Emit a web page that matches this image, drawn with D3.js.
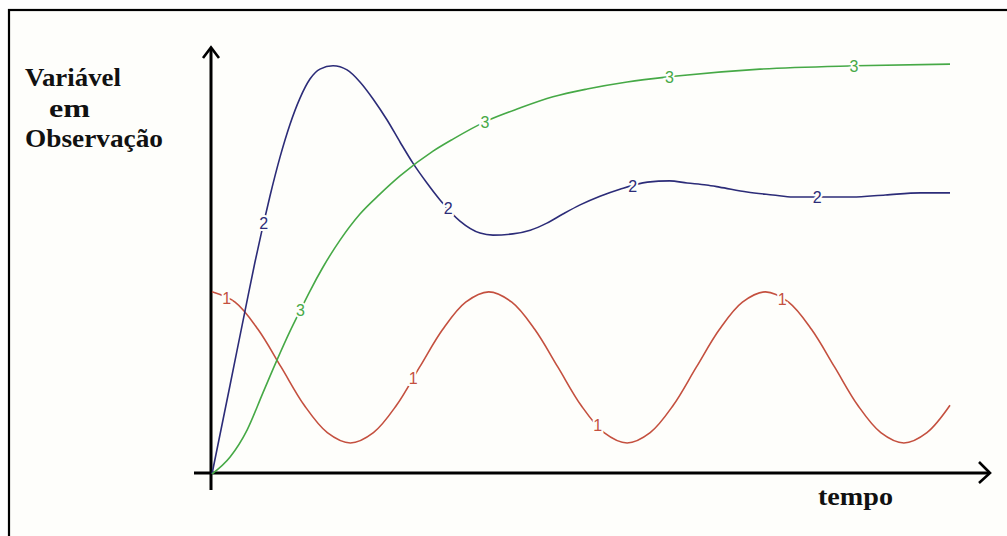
<!DOCTYPE html>
<html>
<head>
<meta charset="utf-8">
<script src="https://cdn.jsdelivr.net/npm/d3@7"></script>
<style>
  html, body { margin: 0; padding: 0; background: #ffffff; }
  svg { display: block; }
</style>
</head>
<body>
<svg id="chart" width="1007" height="536"></svg>
<script>
// Time values (arbitrary units) and observed variable for each response
const serie1 = [
  [0, 44], [1.25, 41.5], [2.5, 34.9], [3.75, 25.8], [5, 16.6], [6.25, 10], [7.5, 7.5],
  [8.75, 10], [10, 16.6], [11.25, 25.8], [12.5, 34.9], [13.75, 41.5], [15, 44],
  [16.25, 41.5], [17.5, 34.9], [18.75, 25.8], [20, 16.6], [21.25, 10], [22.5, 7.5],
  [23.75, 10], [25, 16.6], [26.25, 25.8], [27.5, 34.9], [28.75, 41.5], [30, 44],
  [31.25, 41.5], [32.5, 34.9], [33.75, 25.8], [35, 16.6], [36.25, 10], [37.5, 7.5],
  [38.75, 10], [40, 16.6]
];
const serie2 = [
  [0, 0], [0.98, 21.5], [1.79, 39.4], [2.33, 51.2], [2.71, 58.9], [3.14, 67.1],
  [3.69, 76.6], [4.23, 84.5], [4.77, 90.8], [5.31, 95.4], [5.85, 97.8], [6.56, 98.6],
  [7.32, 97.6], [8.02, 94.7], [8.73, 90.6], [9.49, 85.5], [10.19, 80.2], [10.89, 75.1],
  [11.65, 70.3], [12.36, 66.2], [13.44, 61.1], [14.53, 58.2], [15.23, 57.7], [16.3, 58],
  [17.25, 58.9], [18.15, 60.6], [19.02, 62.8], [19.95, 65], [21.03, 67.1], [22.11, 68.8],
  [23.6, 70.5], [24.8, 70.8], [25.75, 70.3], [26.8, 69.8], [27.5, 69.3], [29.0, 68.1],
  [30.4, 67.4], [31.5, 66.9], [32.8, 66.9], [34.7, 66.9], [36.5, 67.4], [38.4, 67.9],
  [40, 67.9]
];
const serie3 = [
  [0, 0], [0.98, 4.1], [1.9, 10.6], [2.76, 19.6], [3.52, 27.5], [4.23, 34.5],
  [4.77, 39.4], [5.31, 44.2], [6.02, 50], [6.94, 56.5], [8.02, 62.8], [9.1, 67.6],
  [10.19, 72], [11.98, 78], [13.06, 80.9], [14.9, 85.3], [16.69, 88.4], [18.48, 91.1],
  [20.33, 93], [22.5, 94.7], [24.9, 96], [29.7, 97.8], [34.85, 98.6], [40, 99]
];
// Where along time each curve carries its number
const labelTimes1 = [0.8, 10.9, 20.9, 30.9];
const labelTimes2 = [2.8, 12.8, 22.8, 32.8];
const labelTimes3 = [4.8, 14.8, 24.8, 34.8];
const seriesNames = ["1", "2", "3"];
const yTitle = ["Variável", "em", "Observação"];
const xTitle = "tempo";

const series = [
  { name: seriesNames[0], data: serie1, labels: labelTimes1, color: "#c4503f", curve: d3.curveCatmullRom.alpha(0.5) },
  { name: seriesNames[1], data: serie2, labels: labelTimes2, color: "#2c2c78", curve: d3.curveMonotoneX },
  { name: seriesNames[2], data: serie3, labels: labelTimes3, color: "#46a946", curve: d3.curveMonotoneX }
];

const bg = "#fefefb";
const svg = d3.select("#chart");
const x = d3.scaleLinear().domain([0, 40]).range([212, 950]);
const y = d3.scaleLinear().domain([0, 100]).range([474, 60]);

// frame (only the top and left edges fall inside the picture)
svg.append("rect").attr("x", 9).attr("y", 10).attr("width", 1010).attr("height", 540)
  .attr("fill", bg).attr("stroke", "#000").attr("stroke-width", 2.2);

// axes with open arrowheads
const axisG = svg.append("g").attr("stroke", "#000").attr("fill", "none")
  .attr("stroke-linecap", "butt");
const x0 = x(0) - 1, y0 = y(0) - 1;
axisG.append("line").attr("x1", x0).attr("x2", x0).attr("y1", y(100) - 12).attr("y2", y0 + 17)
  .attr("stroke-width", 3);
axisG.append("path")
  .attr("d", `M${x0 - 8},${y(100) - 2} L${x0},${y(100) - 12.5} L${x0 + 8},${y(100) - 2}`)
  .attr("stroke-width", 2.6);
axisG.append("line").attr("x1", x0 - 17).attr("x2", x(40) + 39).attr("y1", y0).attr("y2", y0)
  .attr("stroke-width", 3);
axisG.append("path")
  .attr("d", `M${x(40) + 29},${y0 - 11} L${x(40) + 40},${y0} L${x(40) + 29},${y0 + 10}`)
  .attr("stroke-width", 2.6);

const interp = (data, t) => {
  for (let i = 1; i < data.length; i++) {
    if (t <= data[i][0]) {
      const [ta, va] = data[i - 1], [tb, vb] = data[i];
      return va + (vb - va) * (t - ta) / (tb - ta);
    }
  }
  return data[data.length - 1][1];
};

// curves
series.forEach(s => {
  const line = d3.line().x(d => x(d[0])).y(d => y(d[1])).curve(s.curve);
  svg.append("path").datum(s.data)
    .attr("d", line)
    .attr("fill", "none")
    .attr("stroke", s.color)
    .attr("stroke-width", 1.6);
});

// inline curve numbers, with a halo that breaks the line around them
series.forEach(s => {
  svg.append("g").selectAll("text").data(s.labels).join("text")
    .attr("x", t => x(t))
    .attr("y", t => y(interp(s.data, t)))
    .attr("dy", "0.36em")
    .attr("text-anchor", "middle")
    .attr("font-family", "'Liberation Sans', Arial, sans-serif")
    .attr("font-size", 16)
    .attr("fill", s.color)
    .attr("stroke", bg)
    .attr("stroke-width", 4)
    .attr("paint-order", "stroke")
    .text(s.name);
});

// titles
const titleFont = "'Liberation Serif', 'Times New Roman', serif";
const yt = svg.append("g").attr("font-family", titleFont).attr("font-weight", "bold")
  .attr("font-size", 25).attr("fill", "#111");
yt.append("text").attr("x", 25).attr("y", 86).attr("textLength", 96)
  .attr("lengthAdjust", "spacingAndGlyphs").text(yTitle[0]);
yt.append("text").attr("x", 49).attr("y", 117).attr("textLength", 41)
  .attr("lengthAdjust", "spacingAndGlyphs").text(yTitle[1]);
yt.append("text").attr("x", 25).attr("y", 147).attr("textLength", 138)
  .attr("lengthAdjust", "spacingAndGlyphs").text(yTitle[2]);

svg.append("text").attr("x", 818).attr("y", 505)
  .attr("font-family", titleFont).attr("font-weight", "bold").attr("font-size", 25)
  .attr("fill", "#111").attr("textLength", 75).attr("lengthAdjust", "spacingAndGlyphs")
  .text(xTitle);
</script>
</body>
</html>
